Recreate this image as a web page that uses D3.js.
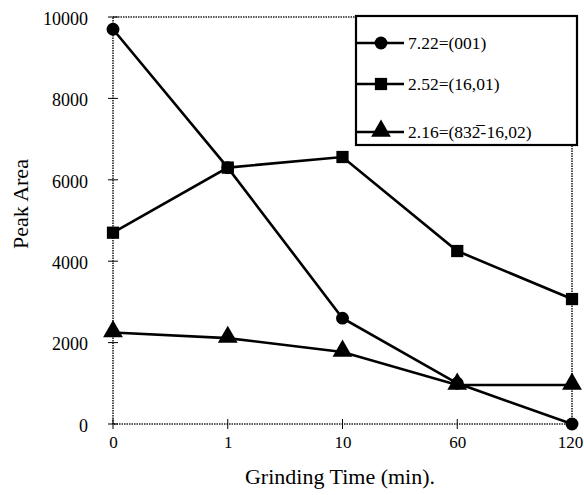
<!DOCTYPE html>
<html><head><meta charset="utf-8">
<script src="https://cdn.jsdelivr.net/npm/d3@7"></script>
<style>body{margin:0;background:#fff}svg{display:block}text{font-family:"Liberation Serif","Times New Roman",serif;fill:#000}</style>
</head><body><svg id="c" width="584" height="495"></svg>
<script>
const categories = ["0","1","10","60","120"];
const yTicks = [0,2000,4000,6000,8000,10000];
const s001 = [9700,6300,2600,1000,0];
const s1601 = [4700,6300,6560,4250,3070];
const s832 = [2250,2110,1770,960,960];
const seriesNames = ["7.22=(001)","2.52=(16,01)","2.16=(832\u0305-16,02)"];
const series = [
  {name:seriesNames[0], values:s001, shape:d3.symbolCircle},
  {name:seriesNames[1], values:s1601, shape:d3.symbolSquare},
  {name:seriesNames[2], values:s832, shape:d3.symbolTriangle}
];
const svg = d3.select("#c");
const L=113,R=572,T=17,B=424;
const x = d3.scalePoint().domain(categories).range([L,R]).padding(0);
const y = d3.scaleLinear().domain([0,10000]).range([B,T]);
const FF = "'Liberation Serif','Times New Roman',serif";

// frame (dotted)
svg.append("rect").attr("x",L).attr("y",T).attr("width",R-L).attr("height",B-T)
  .attr("fill","none").attr("stroke","#222").attr("stroke-width",1.6).attr("stroke-dasharray","1.5,1");

// y axis
const ya = svg.append("g").attr("transform",`translate(${L},0)`)
  .call(d3.axisLeft(y).tickValues(yTicks).tickSize(0).tickPadding(25).tickFormat(d3.format("d")));
ya.select(".domain").remove();
ya.selectAll("text").style("font-size","18px").style("font-family",FF).attr("dy","0.4em");
svg.append("g").selectAll("line").data(yTicks).join("line")
  .attr("x1",L-5).attr("x2",L+5).attr("y1",d=>y(d)).attr("y2",d=>y(d)).attr("stroke","#000").attr("stroke-width",1);

// x axis
const xa = svg.append("g").attr("transform",`translate(0,${B})`)
  .call(d3.axisBottom(x).tickSize(0).tickPadding(12));
xa.select(".domain").remove();
xa.selectAll("text").style("font-size","17px").style("font-family",FF)
  .attr("dx",d=>d==="120"?"-2":"0");
svg.append("g").selectAll("line").data(categories).join("line")
  .attr("x1",d=>x(d)).attr("x2",d=>x(d)).attr("y1",B-5).attr("y2",B+5).attr("stroke","#000").attr("stroke-width",1);

// titles
svg.append("text").attr("x",340).attr("y",484).attr("text-anchor","middle").style("font-size","22px").text("Grinding Time (min).");
svg.append("text").attr("transform",`translate(28,204) rotate(-90)`).attr("text-anchor","middle").style("font-size","22px").text("Peak Area");

// series
const line = d3.line().x((d,i)=>x(categories[i])).y(d=>y(d));
series.forEach(s=>{
  svg.append("path").datum(s.values).attr("d",line).attr("fill","none").attr("stroke","#000").attr("stroke-width",2.6);
});
const sizes = [130,150,170];
series.forEach((s,k)=>{
  svg.append("g").selectAll("path").data(s.values).join("path")
    .attr("transform",(d,i)=>`translate(${x(categories[i])},${y(d)+(k===2?-1:0)})`)
    .attr("d",d3.symbol().type(s.shape).size(sizes[k])).attr("fill","#000");
});

// legend
const lg = svg.append("g");
lg.append("rect").attr("x",356).attr("y",16).attr("width",221).attr("height",129)
  .attr("fill","#fff").attr("stroke","#000").attr("stroke-width",2.2);
const ly = [43,84,132];
series.forEach((s,k)=>{
  lg.append("line").attr("x1",356).attr("x2",404).attr("y1",ly[k]).attr("y2",ly[k]).attr("stroke","#000").attr("stroke-width",2.4);
  lg.append("path").attr("transform",`translate(381,${ly[k]-(k===2?1:0)})`).attr("d",d3.symbol().type(s.shape).size(sizes[k])).attr("fill","#000");
  lg.append("text").attr("x",408).attr("y",ly[k]+6).style("font-size","17.5px").text(s.name);
});
</script></body></html>
